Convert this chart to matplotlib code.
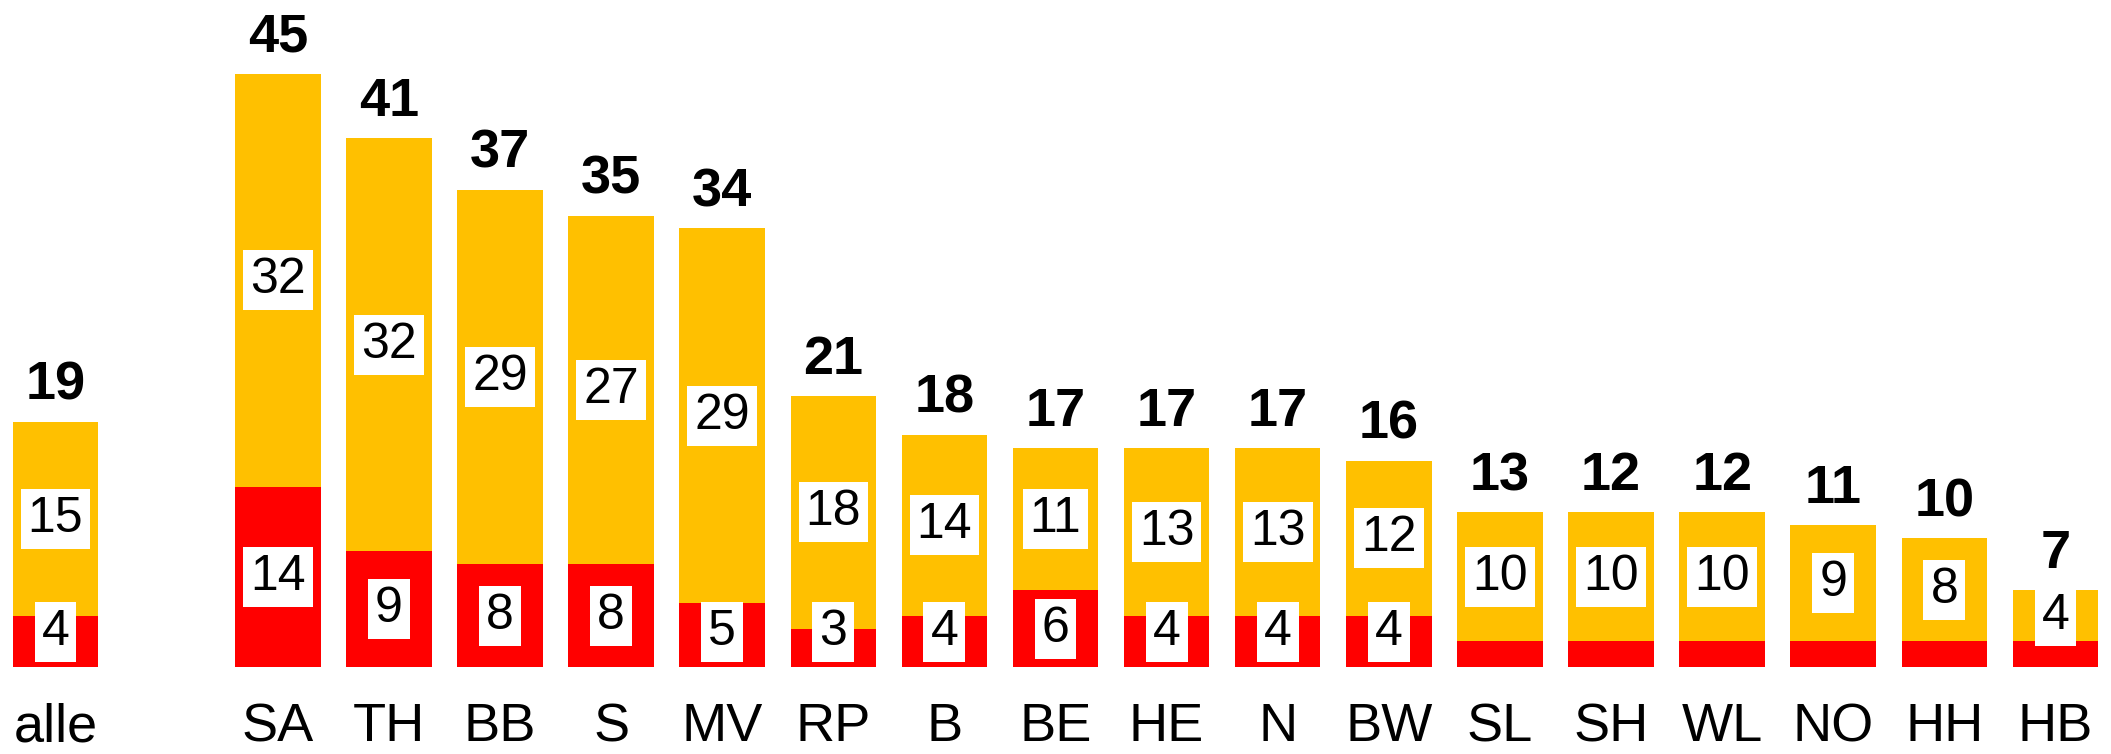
import matplotlib
matplotlib.use("Agg")
from matplotlib import pyplot as plt

plt.rcParams['font.family'] = ['Liberation Sans', 'DejaVu Sans']

categories = ['alle', 'SA', 'TH', 'BB', 'S', 'MV', 'RP', 'B', 'BE', 'HE', 'N', 'BW',
              'SL', 'SH', 'WL', 'NO', 'HH', 'HB']
red_values = [4, 14, 9, 8, 8, 5, 3, 4, 6, 4, 4, 4, 2, 2, 2, 2, 2, 2]
orange_values = [15, 32, 32, 29, 27, 29, 18, 14, 11, 13, 13, 12, 10, 10, 10, 9, 8, 4]
totals = [19, 45, 41, 37, 35, 34, 21, 18, 17, 17, 17, 16, 13, 12, 12, 11, 10, 7]

RED = '#FF0000'
ORANGE = '#FFC000'

# "alle" stands alone, then a gap of one slot
xpos = [0] + list(range(2, len(categories) + 1))

fig = plt.figure(figsize=(21.11, 7.54), dpi=100)
ax = fig.add_axes([0, 0.115, 1, 0.885])

ax.bar(xpos, red_values, width=0.77, color=RED, linewidth=0)
ax.bar(xpos, orange_values, width=0.77, bottom=red_values, color=ORANGE, linewidth=0)

box = dict(boxstyle='square,pad=0.14', facecolor='white', edgecolor='none')
for x, r, o, t in zip(xpos, red_values, orange_values, totals):
    if r >= 3:
        ax.text(x, max(r / 2, 2.7), str(r), ha='center', va='center',
                fontsize=36, bbox=box)
    ax.text(x, r + o / 2, str(o), ha='center', va='center', fontsize=36, bbox=box)
    ax.annotate(str(t), (x, r + o), xytext=(0, 8), textcoords='offset points',
                ha='center', va='bottom', fontsize=39, fontweight='bold')

ax.set_xlim(-0.5, len(categories) + 0.5)
ax.set_ylim(0, 51.7)
ax.set_xticks(xpos)
ax.set_xticklabels(categories, fontsize=39)
ax.tick_params(axis='x', length=0, pad=25)
ax.set_yticks([])
for side in ax.spines.values():
    side.set_visible(False)

fig.savefig('out.png', dpi=100)
